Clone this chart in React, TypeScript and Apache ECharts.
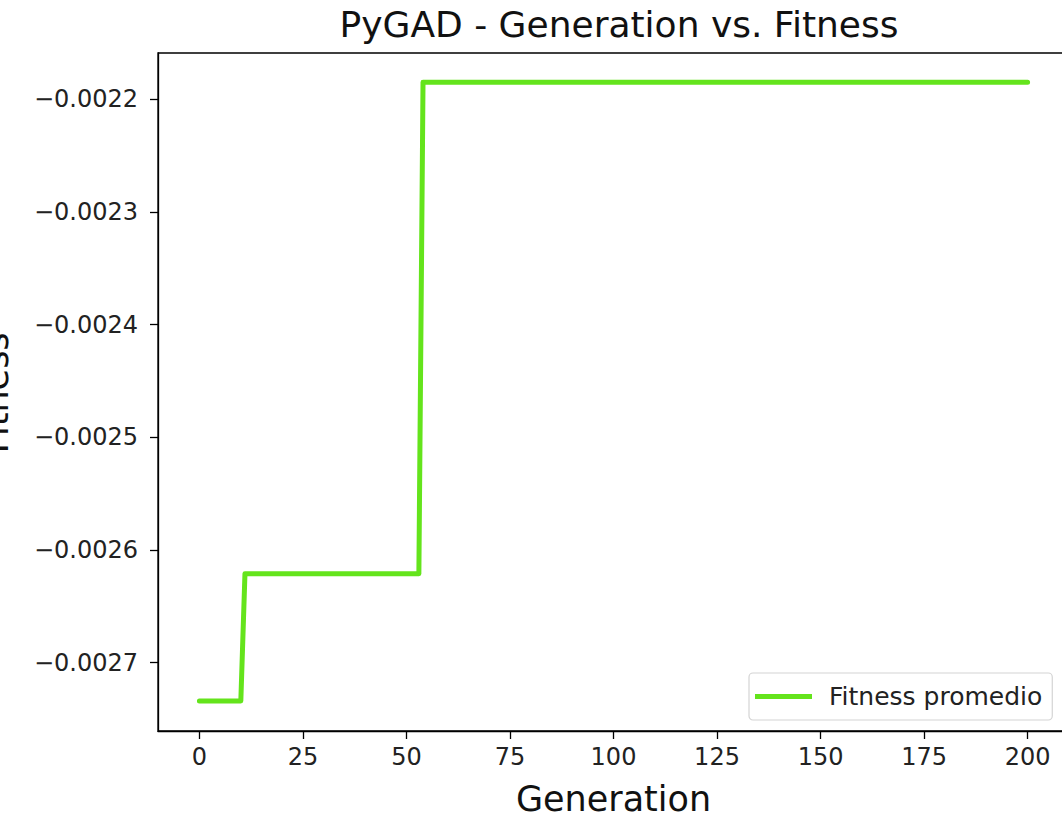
import React, { useEffect, useRef } from "react";
import * as echarts from "echarts";

const generations: number[] = [0, 10, 11, 53, 54, 200];
const fitness: number[] = [-0.002734, -0.002734, -0.002621, -0.002621, -0.002185, -0.002185];
const xTicks: number[] = [0, 25, 50, 75, 100, 125, 150, 175, 200];
const seriesName = "Fitness promedio";
const titleText = "PyGAD - Generation vs. Fitness";
const xName = "Generation";
const yName = "Fitness";

const FONT = "DejaVu Sans";

export default function App() {
  const ref = useRef<HTMLDivElement>(null);
  useEffect(() => {
    if (!ref.current) return;
    const chart = echarts.init(ref.current, null, { renderer: "svg" });
    const data = generations.map((g, i) => [g, fitness[i]]);
    chart.setOption({
      animation: false,
      backgroundColor: "#fff",
      title: {
        text: titleText,
        left: 614,
        top: 1,
        textAlign: "center",
        textStyle: { fontFamily: FONT, fontSize: 36, fontWeight: "normal", color: "#111" },
      },
      grid: {
        left: 158,
        top: 53,
        width: 911,
        height: 678,
        outerBoundsMode: "none",
        containLabel: false,
        show: true,
        borderColor: "#000",
        borderWidth: 1.3,
        backgroundColor: "transparent",
      },
      legend: {
        show: true,
        left: 749,
        top: 673,
        orient: "horizontal",
        icon: "rect",
        itemWidth: 57,
        itemHeight: 5,
        padding: [11, 10, 11, 6],
        backgroundColor: "#fff",
        borderColor: "#d4d4d4",
        borderWidth: 1.2,
        borderRadius: 4,
        textStyle: { fontFamily: FONT, fontSize: 25, color: "#222", padding: [0, 0, 0, 12] },
        data: [seriesName],
      },
      xAxis: {
        type: "value",
        min: -10,
        max: 210,
        name: xName,
        nameLocation: "middle",
        nameGap: 50,
        nameTextStyle: { fontFamily: FONT, fontSize: 35, color: "#111" },
        axisLine: { show: true, onZero: false, lineStyle: { color: "#000", width: 1.3 } },
        axisTick: { show: true, length: 8, customValues: xTicks, lineStyle: { color: "#000", width: 1.3 } },
        axisLabel: {
          fontFamily: FONT,
          fontSize: 24,
          color: "#222",
          margin: 14,
          customValues: xTicks,
          formatter: (v: number) => String(v),
        },
        splitLine: { show: false },
      },
      yAxis: {
        type: "value",
        min: -0.0027606,
        max: -0.002159,
        splitNumber: 5,
        axisLine: { show: true, onZero: false, lineStyle: { color: "#000", width: 1.3 } },
        axisTick: { show: true, length: 8, lineStyle: { color: "#000", width: 1.3 } },
        axisLabel: {
          fontFamily: FONT,
          fontSize: 24,
          color: "#222",
          margin: 20,
          showMinLabel: false,
          showMaxLabel: false,
          formatter: (v: number) => (v < 0 ? "\u2212" : "") + Math.abs(v).toFixed(4),
        },
        splitLine: { show: false },
      },
      graphic: [
        {
          type: "text",
          x: -4,
          y: 393,
          rotation: Math.PI / 2,
          style: {
            text: yName,
            fontFamily: FONT,
            fontSize: 35,
            fill: "#111",
            align: "center",
            verticalAlign: "middle",
          },
        },
      ],
      series: [
        {
          name: seriesName,
          type: "line",
          data,
          symbol: "none",
          lineStyle: { color: "#64e41c", width: 5, cap: "round", join: "round" },
          itemStyle: { color: "#64e41c" },
        },
      ],
    });
    return () => chart.dispose();
  }, []);
  return (
    <div style={{ position: "fixed", left: 0, top: 0, width: 1062, height: 818, overflow: "hidden", background: "#fff" }}>
      <div ref={ref} style={{ width: 1080, height: 818 }} />
    </div>
  );
}
